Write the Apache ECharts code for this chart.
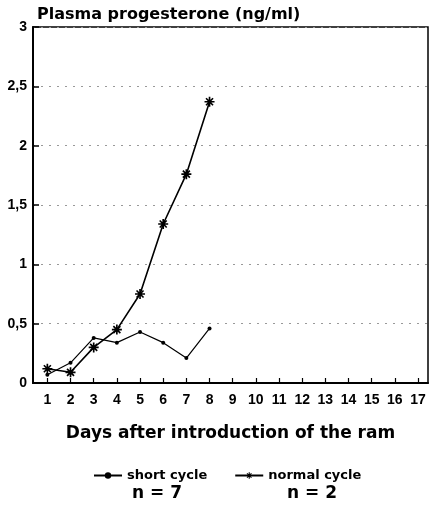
<!DOCTYPE html>
<html>
<head>
<meta charset="utf-8">
<script src="https://cdn.jsdelivr.net/npm/echarts@6/dist/echarts.min.js"></script>
<style>
  html, body { margin: 0; padding: 0; background: #fff; }
  #chart { width: 429px; height: 508px; }
</style>
</head>
<body>
<div id="chart"></div>
<script>
// days on the x axis
let days = [1, 2, 3, 4, 5, 6, 7, 8, 9, 10, 11, 12, 13, 14, 15, 16, 17]
let yTicks = [0, 0.5, 1, 1.5, 2, 2.5, 3]
// plasma progesterone (ng/ml), days 1..8
let shortCycle = [0.07, 0.17, 0.38, 0.34, 0.43, 0.34, 0.21, 0.46]
let normalCycle = [0.12, 0.09, 0.30, 0.45, 0.75, 1.34, 1.76, 2.37]

let star = 'path://M-1,-6 L1,-6 L1,6 L-1,6 Z M-6,-1 L6,-1 L6,1 L-6,1 Z ' +
  'M-3.5,-4.9 L4.9,3.5 L3.5,4.9 L-4.9,-3.5 Z M3.5,-4.9 L4.9,-3.5 L-3.5,4.9 L-4.9,3.5 Z'

let font = '"Liberation Sans", Arial, sans-serif'
let wide = '"DejaVu Sans", Verdana, sans-serif'

let myChart = echarts.init(document.getElementById('chart'), null, {renderer: 'canvas'})
myChart.setOption({
  animation: false,
  textStyle: {fontFamily: font},
  title: {
    text: 'Plasma progesterone (ng/ml)',
    left: 32,
    top: 2,
    textStyle: {fontSize: 16, fontWeight: 'bold', color: '#000', fontFamily: wide}
  },
  grid: {
    show: true,
    left: 33,
    top: 27,
    right: 1,
    bottom: 125,
    borderColor: '#000',
    borderWidth: 1.5,
    backgroundColor: 'transparent'
  },
  legend: {
    top: 464,
    left: 88,
    itemGap: 27,
    itemWidth: 28,
    itemHeight: 8,
    data: ['short cycle', 'normal cycle'],
    textStyle: {fontSize: 13, fontWeight: 'bold', color: '#000', fontFamily: wide}
  },
  xAxis: {
    type: 'value',
    min: 0.38,
    max: 17.43,
    name: 'Days after introduction of the ram',
    nameLocation: 'middle',
    nameGap: 42,
    nameTextStyle: {fontSize: 17, fontWeight: 'bold', color: '#000', fontFamily: wide},
    splitLine: {show: false},
    axisLine: {lineStyle: {color: '#000', width: 2}},
    axisTick: {inside: true, length: 5, customValues: days, lineStyle: {color: '#000', width: 1.2}},
    axisLabel: {
      customValues: days,
      margin: 10,
      fontSize: 14,
      fontWeight: 'bold',
      color: '#000',
      fontFamily: font
    }
  },
  yAxis: {
    type: 'value',
    min: 0,
    max: 3,
    interval: 0.5,
    axisLine: {show: true, lineStyle: {color: '#000', width: 2}},
    axisTick: {inside: true, length: 6, lineStyle: {color: '#000', width: 1.5}},
    splitLine: {show: true, lineStyle: {color: '#999', type: [2, 6], width: 1}},
    axisLabel: {
      margin: 6,
      fontSize: 14,
      fontWeight: 'bold',
      color: '#000',
      fontFamily: font,
      formatter: function (v) { return String(v).replace('.', ',') }
    }
  },
  graphic: [
    {type: 'text', x: 157, y: 494, style: {text: 'n = 7', align: 'center', verticalAlign: 'middle', fontSize: 17, fontWeight: 'bold', fill: '#000', fontFamily: wide}},
    {type: 'text', x: 312, y: 494, style: {text: 'n = 2', align: 'center', verticalAlign: 'middle', fontSize: 17, fontWeight: 'bold', fill: '#000', fontFamily: wide}}
  ],
  series: [
    {
      name: 'short cycle',
      type: 'line',
      symbol: 'circle',
      symbolSize: 4,
      itemStyle: {color: '#000'},
      lineStyle: {color: '#000', width: 1.2},
      data: shortCycle.map((v, i) => [days[i], v])
    },
    {
      name: 'normal cycle',
      type: 'line',
      symbol: star,
      symbolSize: 10,
      itemStyle: {color: '#000'},
      lineStyle: {color: '#000', width: 1.6},
      data: normalCycle.map((v, i) => [days[i], v])
    }
  ]
})
</script>
</body>
</html>
